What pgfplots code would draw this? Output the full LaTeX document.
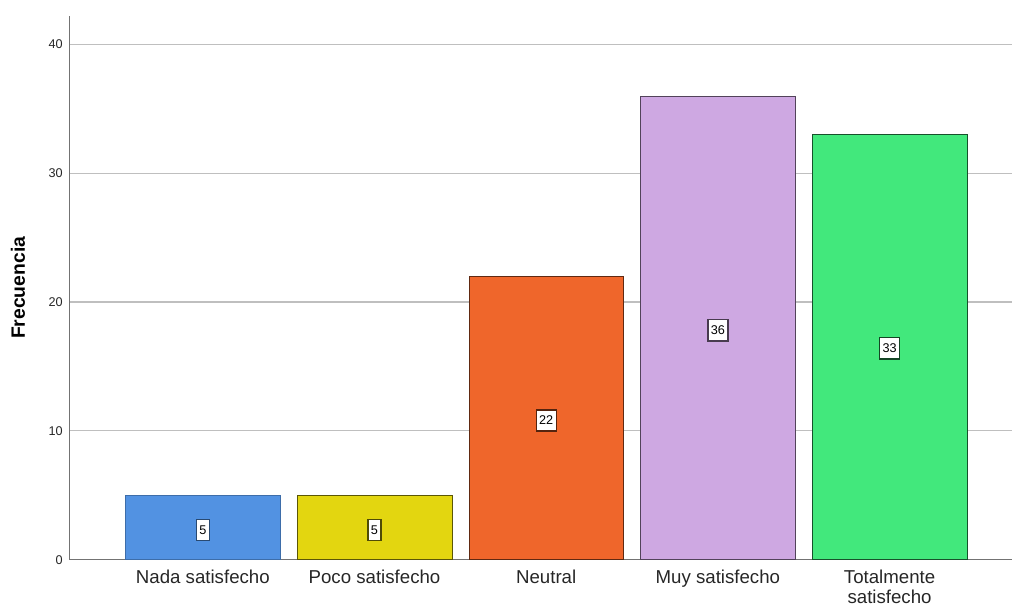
\documentclass[border=0pt]{standalone}
\usepackage{pgfplots}
\pgfplotsset{compat=1.18}
\usepackage{fontspec}
\setmainfont{Liberation Sans}
\definecolor{cA}{RGB}{82,146,226}
\definecolor{cB}{RGB}{227,214,16}
\definecolor{cC}{RGB}{239,102,43}
\definecolor{cD}{RGB}{206,168,226}
\definecolor{cE}{RGB}{66,232,124}
\begin{document}
\begin{tikzpicture}
\begin{axis}[
  at={(0,0)}, anchor=south west,
  scale only axis, width=707.25pt, height=408pt,
  xmin=-0.774, xmax=4.716, ymin=0, ymax=42.2,
  axis x line*=bottom, axis y line*=left,
  axis line style={-, draw=black!55, line width=0.8pt},
  ytick={0,10,20,30,40},
  xtick={0,1,2,3,4},
  xticklabels={Nada satisfecho,Poco satisfecho,Neutral,Muy satisfecho,{Totalmente\\satisfecho}},
  major tick length=0pt,
  ymajorgrids, grid style={black!25, line width=0.8pt},
  /pgf/number format/assume math mode=true,
  yticklabel style={font=\fontsize{9.5}{11}\selectfont, text=black!85, xshift=-2pt},
  xticklabel style={font=\fontsize{14}{15}\selectfont, text=black!85, align=center, anchor=north, yshift=-4pt},
  ylabel={Frecuencia},
  every axis y label/.style={at={(rel axis cs:0,0.5)}, rotate=90, anchor=center, yshift=39pt, font=\fontsize{14.5}{16}\selectfont\bfseries},
  clip=false,
]
\addplot[ybar, bar shift=0pt, bar width=0.9, fill=cA, draw=cA!75!black] coordinates {(0,5)};
\addplot[ybar, bar shift=0pt, bar width=0.9, fill=cB, draw=cB!40!black] coordinates {(1,5)};
\addplot[ybar, bar shift=0pt, bar width=0.9, fill=cC, draw=cC!40!black] coordinates {(2,22)};
\addplot[ybar, bar shift=0pt, bar width=0.9, fill=cD, draw=cD!40!black] coordinates {(3,36)};
\addplot[ybar, bar shift=0pt, bar width=0.9, fill=cE, draw=cE!35!black] coordinates {(4,33)};
\pgfplotsset{lab/.style={draw=none, mark=none, nodes near coords, point meta=explicit symbolic, nodes near coords align=center,
  every node near coord/.style={anchor=center, fill=white, draw=#1, line width=1pt, inner xsep=2.2pt, inner ysep=4.6pt, font=\fontsize{9.5}{10}\selectfont}}}
\addplot[lab=cA!50!black] coordinates {(0,2.3) [5]};
\addplot[lab=cB!35!black] coordinates {(1,2.3) [5]};
\addplot[lab=cC!35!black] coordinates {(2,10.8) [22]};
\addplot[lab=cD!35!black] coordinates {(3,17.8) [36]};
\addplot[lab=cE!30!black] coordinates {(4,16.4) [33]};
\end{axis}
\path (-52.5pt,-37.5pt) rectangle (707.25pt,420pt);
\end{tikzpicture}
\end{document}
